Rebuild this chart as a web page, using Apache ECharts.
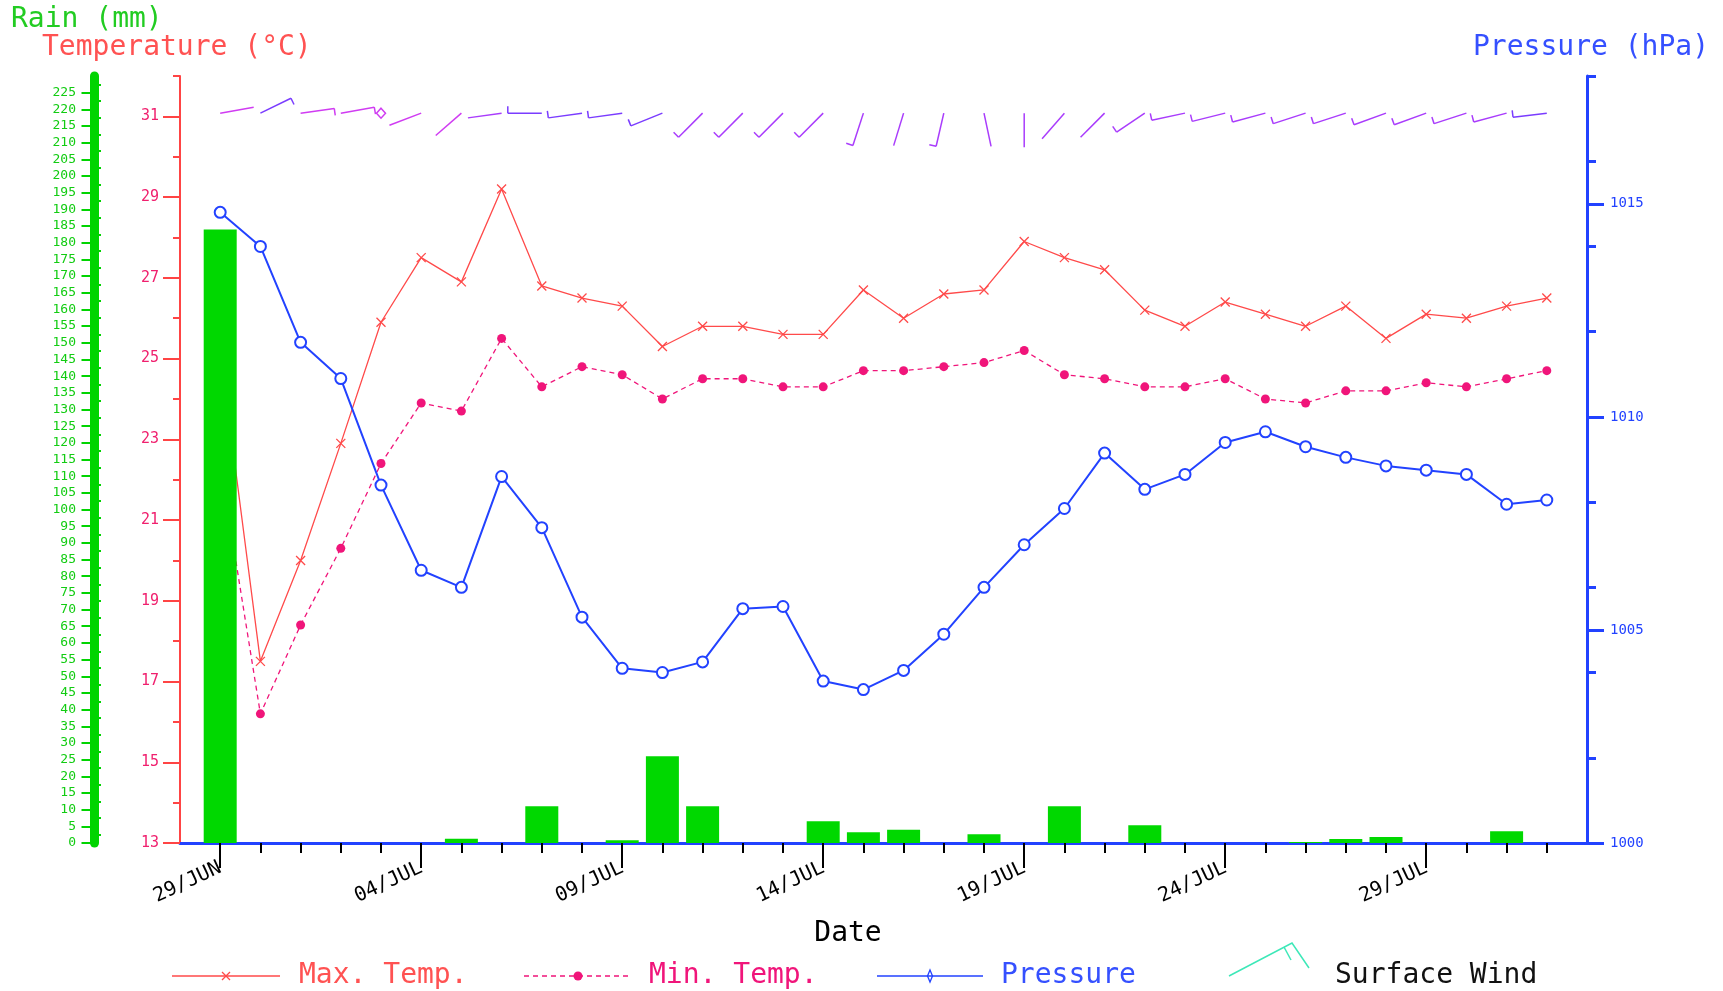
<!DOCTYPE html>
<html>
<head>
<meta charset="utf-8">
<style>
  html, body { margin: 0; padding: 0; background: #ffffff; }
  #chart { width: 1723px; height: 991px; }
</style>
<script src="https://cdn.jsdelivr.net/npm/echarts@6/dist/echarts.min.js"></script>
</head>
<body>
<div id="chart"></div>
<script>
// ---------- data ----------
const dates = ['29/JUN','30/JUN','01/JUL','02/JUL','03/JUL','04/JUL','05/JUL','06/JUL','07/JUL','08/JUL',
  '09/JUL','10/JUL','11/JUL','12/JUL','13/JUL','14/JUL','15/JUL','16/JUL','17/JUL','18/JUL',
  '19/JUL','20/JUL','21/JUL','22/JUL','23/JUL','24/JUL','25/JUL','26/JUL','27/JUL','28/JUL',
  '29/JUL','30/JUL','31/JUL','01/AUG'];
const dateTickIdx = [0, 5, 10, 15, 20, 25, 30];

const maxTemp = [25.2, 17.5, 20.0, 22.9, 25.9, 27.5, 26.9, 29.2, 26.8, 26.5,
  26.3, 25.3, 25.8, 25.8, 25.6, 25.6, 26.7, 26.0, 26.6, 26.7,
  27.9, 27.5, 27.2, 26.2, 25.8, 26.4, 26.1, 25.8, 26.3, 25.5,
  26.1, 26.0, 26.3, 26.5];
const minTemp = [22.4, 16.2, 18.4, 20.3, 22.4, 23.9, 23.7, 25.5, 24.3, 24.8,
  24.6, 24.0, 24.5, 24.5, 24.3, 24.3, 24.7, 24.7, 24.8, 24.9,
  25.2, 24.6, 24.5, 24.3, 24.3, 24.5, 24.0, 23.9, 24.2, 24.2,
  24.4, 24.3, 24.5, 24.7];
const pressure = [1014.8, 1014.0, 1011.75, 1010.9, 1008.4, 1006.4, 1006.0, 1008.6, 1007.4, 1005.3,
  1004.1, 1004.0, 1004.25, 1005.5, 1005.55, 1003.8, 1003.6, 1004.05, 1004.9, 1006.0,
  1007.0, 1007.85, 1009.15, 1008.3, 1008.65, 1009.4, 1009.65, 1009.3, 1009.05, 1008.85,
  1008.75, 1008.65, 1007.95, 1008.05];
const rain = [184, 0, 0, 0, 0, 0, 1.3, 0, 11, 0,
  0.8, 26, 11, 0, 0, 6.5, 3.2, 4, 0, 2.6,
  0, 11, 0, 5.3, 0, 0, 0, 0.3, 1.2, 1.8,
  0, 0, 3.5, 0];
// wind: direction (deg, -1 = calm), feather count, colour tone
const windDir = [80, 64, 82, 80, -1, 249, 229, 262, 270, 262,
  262, 248, 225, 225, 225, 225, 198, 197, 193, 168,
  180, 221, 225, 236, 258, 256, 255, 252, 252, 250,
  250, 252, 255, 263];
const windFeather = [0, 1, 1, 1, 0, 0, 0, 0, 1, 1,
  1, 1, 1, 1, 1, 1, 1, 0, 1, 0,
  0, 0, 0, 1, 1, 1, 1, 1, 1, 1,
  1, 1, 1, 1];
const windTone = [0, 1, 0, 0, 0, 0, 0, 2, 1, 1,
  1, 1, 2, 2, 2, 2, 2, 2, 2, 2,
  2, 2, 2, 2, 2, 2, 2, 2, 2, 2,
  2, 2, 2, 1];
const windPalette = ['#d03cf2', '#7a3cff', '#a93cfc'];
const windLevel = 31.08;

// tick values
const tempTicks = [13, 15, 17, 19, 21, 23, 25, 27, 29, 31];
const tempMinor = [14, 16, 18, 20, 22, 24, 26, 28, 30, 32];
const pressTicks = [1000, 1005, 1010, 1015];
const pressMinor = [1002, 1004, 1006, 1008, 1012, 1014, 1016, 1018];
const rainTicks = Array.from({length: 46}, (_, k) => k * 5);
const rainMinor = Array.from({length: 46}, (_, k) => k * 5 + 2.5);
const dayTicks = dates.map((_, i) => i);

// ---------- chart ----------
const FONT = '"DejaVu Sans Mono", monospace';
const chart = echarts.init(document.getElementById('chart'), null, {renderer: 'canvas'});

function renderBarb(params, api) {
  const i = api.value(0), dir = api.value(1), n = api.value(2), tone = api.value(3);
  const p = api.coord([i, windLevel]);
  const color = windPalette[tone];
  if (dir < 0) {
    return {
      type: 'polygon',
      shape: {points: [[p[0], p[1] - 5], [p[0] + 4.5, p[1]], [p[0], p[1] + 5], [p[0] - 4.5, p[1]]]},
      style: {fill: 'none', stroke: color, lineWidth: 1.5}
    };
  }
  const rad = dir * Math.PI / 180;
  const dx = Math.sin(rad), dy = -Math.cos(rad);
  const L = 34;
  const ex = p[0] + dx * L, ey = p[1] + dy * L;
  const children = [{
    type: 'line',
    shape: {x1: p[0], y1: p[1], x2: ex, y2: ey},
    style: {stroke: color, lineWidth: 1.5}
  }];
  if (n > 0) {
    const fl = n >= 2 ? 10 : 7;
    children.push({
      type: 'line',
      shape: {x1: ex, y1: ey, x2: ex - dy * fl, y2: ey + dx * fl},
      style: {stroke: color, lineWidth: 1.5}
    });
  }
  return {type: 'group', children};
}

const plain = v => String(v);

const option = {
  animation: false,
  backgroundColor: '#ffffff',
  grid: {left: 180, right: 136, top: 76, bottom: 148, containLabel: false, outerBoundsMode: 'none'},
  xAxis: [
    {
      type: 'value', min: -1, max: 34, position: 'bottom',
      axisLine: {show: true, onZero: false, lineStyle: {color: '#2242ff', width: 3}},
      axisTick: {show: true, customValues: dateTickIdx, length: 25, lineStyle: {color: '#000000', width: 2}},
      axisLabel: {
        show: true, customValues: dateTickIdx, rotate: 25, margin: 24,
        formatter: v => dates[v] || '',
        color: '#000000', fontFamily: FONT, fontSize: 20
      },
      splitLine: {show: false}
    },
    {
      type: 'value', min: -1, max: 34, position: 'bottom', offset: 0,
      axisLine: {show: false, onZero: false},
      axisTick: {show: true, customValues: dayTicks, length: 10, lineStyle: {color: '#000000', width: 2}},
      axisLabel: {show: false},
      splitLine: {show: false}
    }
  ],
  yAxis: [
    { // 0 temperature (major)
      type: 'value', min: 13, max: 32, position: 'left', offset: 0,
      axisLine: {show: true, onZero: false, lineStyle: {color: '#ff4444', width: 2}},
      axisTick: {show: true, customValues: tempTicks, length: 17, lineStyle: {color: '#ff4444', width: 2}},
      axisLabel: {show: true, customValues: tempTicks, margin: 21, formatter: plain, color: '#f0206e', fontFamily: FONT, fontSize: 15},
      splitLine: {show: false}
    },
    { // 1 temperature (minor)
      type: 'value', min: 13, max: 32, position: 'left', offset: 0,
      axisLine: {show: false, onZero: false},
      axisTick: {show: true, customValues: tempMinor, length: 7, lineStyle: {color: '#ff4444', width: 2}},
      axisLabel: {show: false},
      splitLine: {show: false}
    },
    { // 2 rain
      type: 'value', min: 0, max: 230, position: 'left', offset: 86,
      axisLine: {show: true, onZero: false, lineStyle: {color: '#00d400', width: 9}},
      axisTick: {show: true, customValues: rainTicks, length: 12.5, lineStyle: {color: '#00d400', width: 2}},
      axisLabel: {show: true, customValues: rainTicks, margin: 18, formatter: plain, color: '#12cc12', fontFamily: FONT, fontSize: 13},
      splitLine: {show: false}
    },
    { // 3 rain minor (inside)
      type: 'value', min: 0, max: 230, position: 'left', offset: 86,
      axisLine: {show: false, onZero: false},
      axisTick: {show: true, inside: true, customValues: rainMinor, length: 7, lineStyle: {color: '#00d400', width: 2}},
      axisLabel: {show: false},
      splitLine: {show: false}
    },
    { // 4 pressure (major)
      type: 'value', min: 1000, max: 1018, position: 'right', offset: 0,
      axisLine: {show: true, onZero: false, lineStyle: {color: '#2242ff', width: 3}},
      axisTick: {show: true, customValues: pressTicks, length: 17, lineStyle: {color: '#2242ff', width: 3}},
      axisLabel: {show: true, customValues: pressTicks, margin: 23, formatter: plain, color: '#2242ff', fontFamily: FONT, fontSize: 14},
      splitLine: {show: false}
    },
    { // 5 pressure (minor)
      type: 'value', min: 1000, max: 1018, position: 'right', offset: 0,
      axisLine: {show: false, onZero: false},
      axisTick: {show: true, customValues: pressMinor, length: 9, lineStyle: {color: '#2242ff', width: 3}},
      axisLabel: {show: false},
      splitLine: {show: false}
    }
  ],
  series: [
    {
      name: 'Max. Temp.', type: 'line', xAxisIndex: 0, yAxisIndex: 0, z: 2,
      data: maxTemp.map((v, i) => [i, v]),
      symbol: 'path://M0,0L10,10M10,0L0,10', symbolSize: 9,
      itemStyle: {color: 'transparent', borderColor: '#ff4a4a', borderWidth: 1.3},
      lineStyle: {color: '#ff4a4a', width: 1.3}
    },
    {
      name: 'Min. Temp.', type: 'line', xAxisIndex: 0, yAxisIndex: 0, z: 2,
      data: minTemp.map((v, i) => [i, v]),
      symbol: 'circle', symbolSize: 9,
      itemStyle: {color: '#f0157a'},
      lineStyle: {color: '#f0157a', width: 1.3, type: [5, 4]}
    },
    {
      name: 'Rain', type: 'bar', xAxisIndex: 0, yAxisIndex: 2, z: 3,
      data: rain.map((v, i) => [i, v]),
      barWidth: 33,
      itemStyle: {color: '#00d800'}
    },
    {
      name: 'Pressure', type: 'line', xAxisIndex: 0, yAxisIndex: 4, z: 4,
      data: pressure.map((v, i) => [i, v]),
      symbol: 'emptyCircle', symbolSize: 11,
      itemStyle: {color: '#2242ff', borderWidth: 2},
      lineStyle: {color: '#2242ff', width: 2}
    },
    {
      name: 'Surface Wind', type: 'custom', xAxisIndex: 0, yAxisIndex: 0, z: 5, clip: false,
      data: windDir.map((d, i) => [i, d, windFeather[i], windTone[i]]),
      renderItem: renderBarb
    }
  ],
  graphic: [
    {type: 'text', x: 11, y: 20, style: {text: 'Rain (mm)', fill: '#22cc22', font: '28px ' + FONT, textAlign: 'left', textVerticalAlign: 'middle', align: 'left', verticalAlign: 'middle'}},
    {type: 'text', x: 42, y: 48, style: {text: 'Temperature (°C)', fill: '#ff5252', font: '28px ' + FONT, textAlign: 'left', textVerticalAlign: 'middle', align: 'left', verticalAlign: 'middle'}},
    {type: 'text', x: 1709, y: 48, style: {text: 'Pressure (hPa)', fill: '#3550ff', font: '28px ' + FONT, textAlign: 'right', textVerticalAlign: 'middle', align: 'right', verticalAlign: 'middle'}},
    {type: 'text', x: 848, y: 934, style: {text: 'Date', fill: '#000000', font: '28px ' + FONT, textAlign: 'center', textVerticalAlign: 'middle', align: 'center', verticalAlign: 'middle'}},
    // legend: Max. Temp.
    {type: 'line', shape: {x1: 172, y1: 976, x2: 280, y2: 976}, style: {stroke: '#ff4a4a', lineWidth: 1.3}},
    {type: 'polyline', shape: {points: [[222, 972], [230, 980]]}, style: {stroke: '#ff4a4a', lineWidth: 1.3}},
    {type: 'polyline', shape: {points: [[230, 972], [222, 980]]}, style: {stroke: '#ff4a4a', lineWidth: 1.3}},
    {type: 'text', x: 299, y: 976, style: {text: 'Max. Temp.', fill: '#ff5252', font: '28px ' + FONT, textAlign: 'left', textVerticalAlign: 'middle', align: 'left', verticalAlign: 'middle'}},
    // legend: Min. Temp.
    {type: 'line', shape: {x1: 524, y1: 976, x2: 632, y2: 976}, style: {stroke: '#f0157a', lineWidth: 1.3, lineDash: [5, 4]}},
    {type: 'circle', shape: {cx: 578, cy: 976, r: 4.5}, style: {fill: '#f0157a'}},
    {type: 'text', x: 649, y: 976, style: {text: 'Min. Temp.', fill: '#f0157a', font: '28px ' + FONT, textAlign: 'left', textVerticalAlign: 'middle', align: 'left', verticalAlign: 'middle'}},
    // legend: Pressure
    {type: 'line', shape: {x1: 877, y1: 976, x2: 983, y2: 976}, style: {stroke: '#2242ff', lineWidth: 1.5}},
    {type: 'polygon', shape: {points: [[930, 970], [932.5, 976], [930, 982], [927.5, 976]]}, style: {fill: 'none', stroke: '#2242ff', lineWidth: 1.3}},
    {type: 'text', x: 1001, y: 976, style: {text: 'Pressure', fill: '#3550ff', font: '28px ' + FONT, textAlign: 'left', textVerticalAlign: 'middle', align: 'left', verticalAlign: 'middle'}},
    // legend: Surface Wind
    {type: 'polyline', shape: {points: [[1229, 976], [1292, 943], [1309, 968]]}, style: {stroke: '#3de8b8', lineWidth: 1.5, fill: 'none'}},
    {type: 'line', shape: {x1: 1284, y1: 947, x2: 1291, y2: 960}, style: {stroke: '#3de8b8', lineWidth: 1.5}},
    {type: 'text', x: 1335, y: 976, style: {text: 'Surface Wind', fill: '#111111', font: '28px ' + FONT, textAlign: 'left', textVerticalAlign: 'middle', align: 'left', verticalAlign: 'middle'}}
  ]
};
chart.setOption(option);
</script>
</body>
</html>
